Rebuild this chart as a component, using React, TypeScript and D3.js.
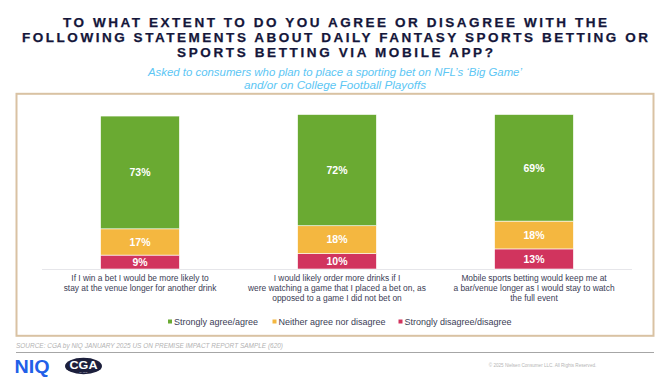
import React from "react";
import * as d3 from "d3";

const categories = [
  ["If I win a bet I would be more likely to", "stay at the venue longer for another drink"],
  ["I would likely order more drinks if I", "were watching a game that I placed a bet on, as", "opposed to a game I did not bet on"],
  ["Mobile sports betting would keep me at", "a bar/venue longer as I would stay to watch", "the full event"],
];
const seriesNames = ["Strongly disagree/disagree", "Neither agree nor disagree", "Strongly agree/agree"];
const disagree = [9, 10, 13];
const neither = [17, 18, 18];
const agree = [73, 72, 69];
const colors = ["#d1345e", "#f4b740", "#6aaa32"];
const legendOrder = [2, 1, 0];
const titleLines = [
  "TO WHAT EXTENT TO DO YOU AGREE OR DISAGREE WITH THE",
  "FOLLOWING STATEMENTS ABOUT DAILY FANTASY SPORTS BETTING OR",
  "SPORTS BETTING VIA MOBILE APP?",
];
const subtitleLines = [
  "Asked to consumers who plan to place a sporting bet on NFL\u2019s \u2018Big Game\u2019",
  "and/or on College Football Playoffs",
];
const sourceText = "SOURCE: CGA by NIQ JANUARY 2025 US ON PREMISE IMPACT REPORT SAMPLE (620)";
const copyright = "\u00a9 2025 Nielsen Consumer LLC. All Rights Reserved.";

export default function App() {
  const W = 670, H = 377;
  const ids = ["0", "1", "2"];
  const x = d3.scaleBand<string>().domain(ids).range([41.5, 632.5]).paddingInner(0.6).paddingOuter(0.3);
  const y = d3.scaleLinear().domain([0, 100]).range([269, 114.5]);
  const table = ids.map((id, i) => ({ id, s0: disagree[i], s1: neither[i], s2: agree[i] }));
  const stacked = d3.stack<any>().keys(["s0", "s1", "s2"])(table);
  const font = "'Liberation Sans', Arial, sans-serif";
  const titleWidths = [544, 626, 316];
  const subWidths = [374, 182];

  const legendX = [168, 272.5, 398.5];

  return (
    <div style={{ position: "absolute", left: 0, top: 0 }}>
      <svg width={W} height={H} style={{ display: "block", background: "#fff" }} fontFamily={font}>
        {titleLines.map((t, i) => (
          <text key={i} x={W / 2} y={26.7 + i * 15} textAnchor="middle" fontSize={13.5} fontWeight="bold"
            fill="#14163a" stroke="#14163a" strokeWidth={0.25} textLength={titleWidths[i]} lengthAdjust="spacing">{t}</text>
        ))}
        {subtitleLines.map((t, i) => (
          <text key={i} x={W / 2} y={75.5 + i * 13} textAnchor="middle" fontSize={11} fontStyle="italic"
            fill="#5cc6f4" textLength={subWidths[i]} lengthAdjust="spacingAndGlyphs">{t}</text>
        ))}
        <rect x={16.5} y={93.8} width={637} height={242} fill="none" stroke="#d9c2a3" strokeWidth={2} />
        <line x1={42} x2={632} y1={269.5} y2={269.5} stroke="#e6e6ea" strokeWidth={1} />
        {stacked.map((layer, li) => (
          <g key={li}>
            {layer.map((d, i) => (
              <g key={i}>
                <rect x={x(ids[i])} y={y(d[1])} width={x.bandwidth()} height={y(d[0]) - y(d[1])}
                  fill={colors[li]} stroke="#ffffff" strokeWidth={0.6} />
                <text x={(x(ids[i]) as number) + x.bandwidth() / 2} y={(y(d[0]) + y(d[1])) / 2 + 3.8}
                  textAnchor="middle" fontSize={10.5} fontWeight="bold" fill="#ffffff">
                  {d[1] - d[0]}%
                </text>
              </g>
            ))}
          </g>
        ))}
        {categories.map((lines, i) => (
          <text key={i} textAnchor="middle" fontSize={8.4} fill="#3b3d55">
            {lines.map((l, j) => (
              <tspan key={j} x={(x(ids[i]) as number) + x.bandwidth() / 2} y={281 + j * 10}>{l}</tspan>
            ))}
          </text>
        ))}
        {legendOrder.map((si, k) => (
          <g key={si}>
            <rect x={legendX[k]} y={319.5} width={4} height={4} fill={colors[si]} />
            <text x={legendX[k] + 6} y={324.5} fontSize={9} fill="#3b3d55">{seriesNames[si]}</text>
          </g>
        ))}
        <text x={16} y={347.5} fontSize={6.6} fontStyle="italic" fill="#b2b2b2" textLength={267} lengthAdjust="spacingAndGlyphs">{sourceText}</text>
        <line x1={16} x2={654} y1={352.5} y2={352.5} stroke="#a6a6a6" strokeWidth={1.2} />
        <text x={542.5} y={366.5} textAnchor="middle" fontSize={4.6} fill="#b5b5b5">{copyright}</text>
        <text x={14.5} y={373} fontSize={18.5} fontWeight="bold" fill="#2160e8" textLength={35} lengthAdjust="spacingAndGlyphs">NIQ</text>
        <ellipse cx={83.5} cy={366} rx={18.5} ry={8.2} fill="#1c1f3c" />
        <text x={83.5} y={369} textAnchor="middle" fontSize={10.5} fontWeight="bold" fill="#ffffff" textLength={28} lengthAdjust="spacingAndGlyphs">CGA</text>
        <text x={83.5} y={372.6} textAnchor="middle" fontSize={2.5} fill="#c8c8d8">by NIQ</text>
      </svg>
    </div>
  );
}
